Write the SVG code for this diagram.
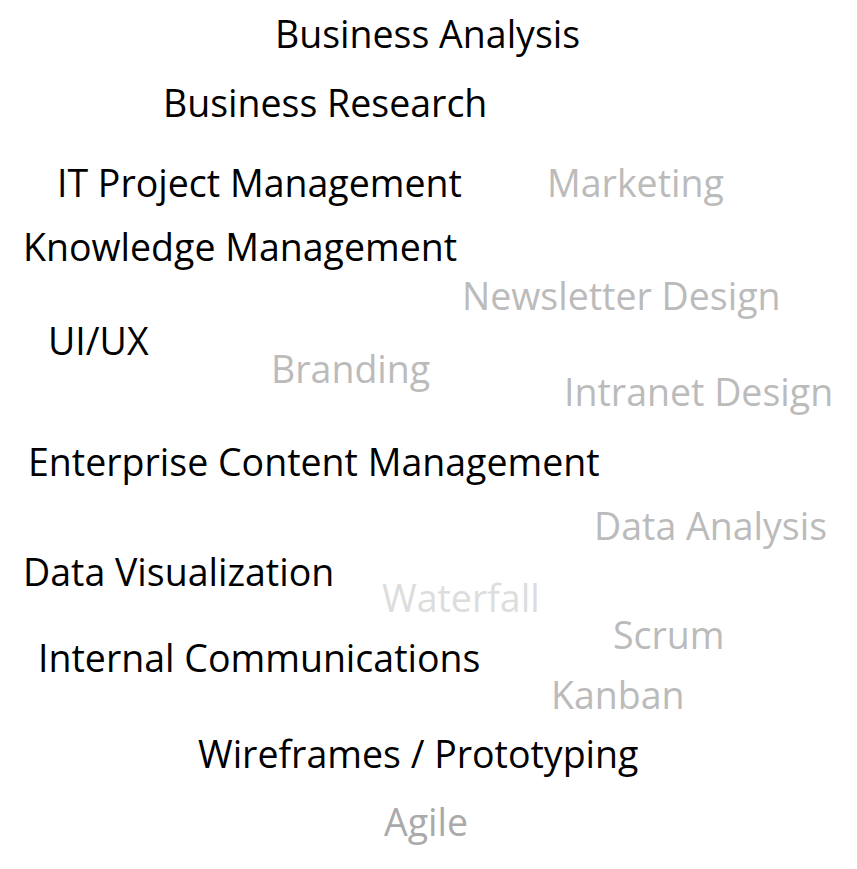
<svg xmlns="http://www.w3.org/2000/svg" width="857" height="869" viewBox="0 0 857 869">
<style>
text{font-family:"Open Sans","Noto Sans",sans-serif;font-size:37.5px;}
.k{fill:#000000;}
.g{fill:#bbbbbb;}
.l{fill:#dddddd;}
.a{fill:#aaaaaa;}
</style>
<rect width="857" height="869" fill="#ffffff"/>
<g id="business-analysis"><text class="k" x="275" y="48">Business Analysis</text></g>
<g id="business-research"><text class="k" x="163" y="117">Business Research</text></g>
<g id="it-project-management"><text class="k" x="57" y="197">IT Project Management</text></g>
<g id="marketing"><text class="g" x="547" y="197">Marketing</text></g>
<g id="knowledge-management"><text class="k" x="23" y="261">Knowledge Management</text></g>
<g id="newsletter-design"><text class="g" x="462" y="310">Newsletter Design</text></g>
<g id="ui-ux"><text class="k" x="48" y="355">UI/UX</text></g>
<g id="branding"><text class="g" x="271" y="383">Branding</text></g>
<g id="intranet-design"><text class="g" x="564" y="406">Intranet Design</text></g>
<g id="enterprise-content-management"><text class="k" x="28" y="476">Enterprise Content Management</text></g>
<g id="data-analysis"><text class="g" x="594" y="540">Data Analysis</text></g>
<g id="data-visualization"><text class="k" x="23" y="586">Data Visualization</text></g>
<g id="waterfall"><text class="l" x="382" y="612">Waterfall</text></g>
<g id="scrum"><text class="g" x="613" y="649">Scrum</text></g>
<g id="internal-communications"><text class="k" x="38" y="672">Internal Communications</text></g>
<g id="kanban"><text class="g" x="551" y="709">Kanban</text></g>
<g id="wireframes-prototyping"><text class="k" x="198" y="768">Wireframes / Prototyping</text></g>
<g id="agile"><text class="a" x="384" y="836">Agile</text></g>
<g id="connectors"></g>
</svg>
